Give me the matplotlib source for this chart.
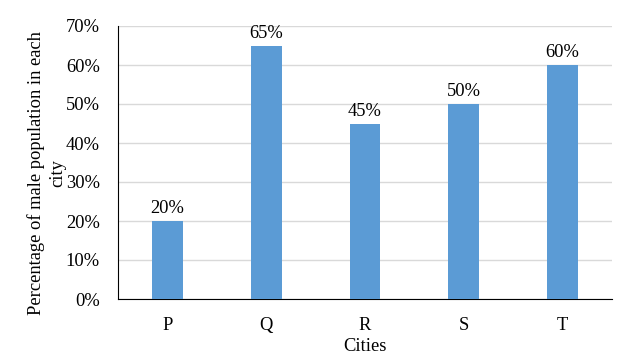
import matplotlib.pyplot as plt
from matplotlib.ticker import PercentFormatter

cities = ['P', 'Q', 'R', 'S', 'T']
male_pct = [20, 65, 45, 50, 60]
y_ticks = [0, 10, 20, 30, 40, 50, 60, 70]

plt.rcParams['font.family'] = ['Liberation Serif', 'DejaVu Serif']
plt.rcParams['font.size'] = 13.3

fig = plt.figure(figsize=(6.42, 3.59), dpi=100)
ax = fig.add_axes([118 / 642, 1 - 299 / 359, 494 / 642, 273 / 359])

bars = ax.bar(cities, male_pct, width=0.31, color='#5B9BD5', zorder=3)
for b, v in zip(bars, male_pct):
    ax.text(b.get_x() + b.get_width() / 2, v + 1.0, f'{v}%', ha='center', va='bottom')

ax.set_ylim(0, 70)
ax.set_xlim(-0.5, len(cities) - 0.5)
ax.set_yticks(y_ticks)
ax.yaxis.set_major_formatter(PercentFormatter(decimals=0))
ax.grid(axis='y', color='#d9d9d9', linewidth=1, zorder=0)
ax.tick_params(length=0)
ax.tick_params(axis='x', pad=13)
ax.tick_params(axis='y', pad=13)
for s in ['top', 'right']:
    ax.spines[s].set_visible(False)
ax.spines['left'].set_color('black')
ax.spines['bottom'].set_color('black')

ax.set_xlabel('Cities', labelpad=3)
ax.set_ylabel('Percentage of male population in each\ncity', linespacing=1.35)
ax.yaxis.set_label_coords(-0.104, 0.46)

fig.savefig('out.png', dpi=100)
